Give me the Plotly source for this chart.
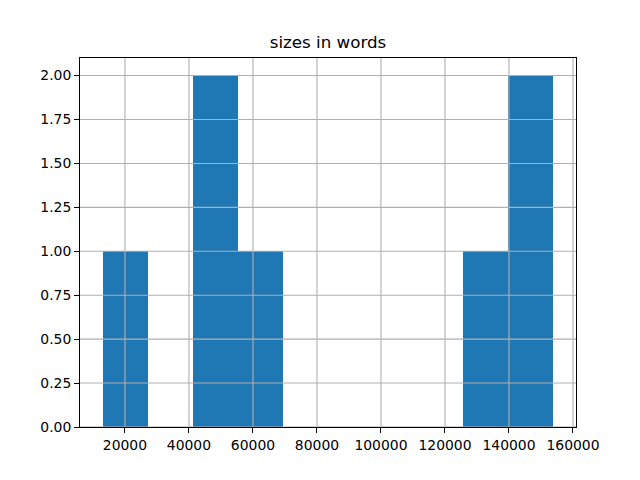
import numpy as np
import plotly.graph_objects as go

# Histogram of "sizes in words"
data_min = 13000
data_max = 153900
n_bins = 10
counts = [1, 0, 2, 1, 0, 0, 0, 0, 1, 2]

x_ticks = [20000, 40000, 60000, 80000, 100000, 120000, 140000, 160000]
y_ticks = [0.0, 0.25, 0.5, 0.75, 1.0, 1.25, 1.5, 1.75, 2.0]
title_text = "sizes in words"

edges = np.linspace(data_min, data_max, n_bins + 1)
centers = (edges[:-1] + edges[1:]) / 2
width = edges[1] - edges[0]

span = data_max - data_min
x_range = [data_min - 0.05 * span, data_max + 0.05 * span]
y_range = [0, max(counts) * 1.05]

fig = go.Figure()
fig.add_trace(go.Bar(
    x=centers, y=counts, width=[width] * n_bins,
    marker=dict(color="#1f77b4", line=dict(width=0)),
    showlegend=False,
))

grid_color = "#b0b0b0"
shapes = []
for xv in x_ticks:
    shapes.append(dict(type="line", xref="x", yref="paper", x0=xv, x1=xv, y0=0, y1=1,
                       line=dict(color=grid_color, width=1.1), layer="above"))
for yv in y_ticks:
    shapes.append(dict(type="line", xref="paper", yref="y", x0=0, x1=1, y0=yv, y1=yv,
                       line=dict(color=grid_color, width=1.1), layer="above"))

font = dict(family="DejaVu Sans", size=13.9, color="black")
fig.update_layout(
    width=640, height=480,
    margin=dict(l=72, r=72, t=50, b=61),
    paper_bgcolor="white", plot_bgcolor="white",
    bargap=0,
    title=dict(text=title_text, x=(72 + 568) / 2 / 640, xanchor="center",
               y=1 - 34.5 / 480, yanchor="middle", yref="container",
               font=dict(family="DejaVu Sans", size=16.7, color="black")),
    font=font,
    shapes=shapes,
)
fig.update_xaxes(range=x_range, tickvals=x_ticks, ticktext=[str(v) for v in x_ticks],
                 showgrid=False, zeroline=False, showline=True, mirror=True,
                 linecolor="black", linewidth=1.1, ticks="outside", ticklen=4.9,
                 tickwidth=1.1, tickcolor="black", tickfont=font)
fig.update_yaxes(range=y_range, tickvals=y_ticks, ticktext=[f"{v:.2f}" for v in y_ticks],
                 showgrid=False, zeroline=False, showline=True, mirror=True,
                 linecolor="black", linewidth=1.1, ticks="outside", ticklen=4.9,
                 tickwidth=1.1, tickcolor="black", tickfont=font)

fig.write_html("out.html")
